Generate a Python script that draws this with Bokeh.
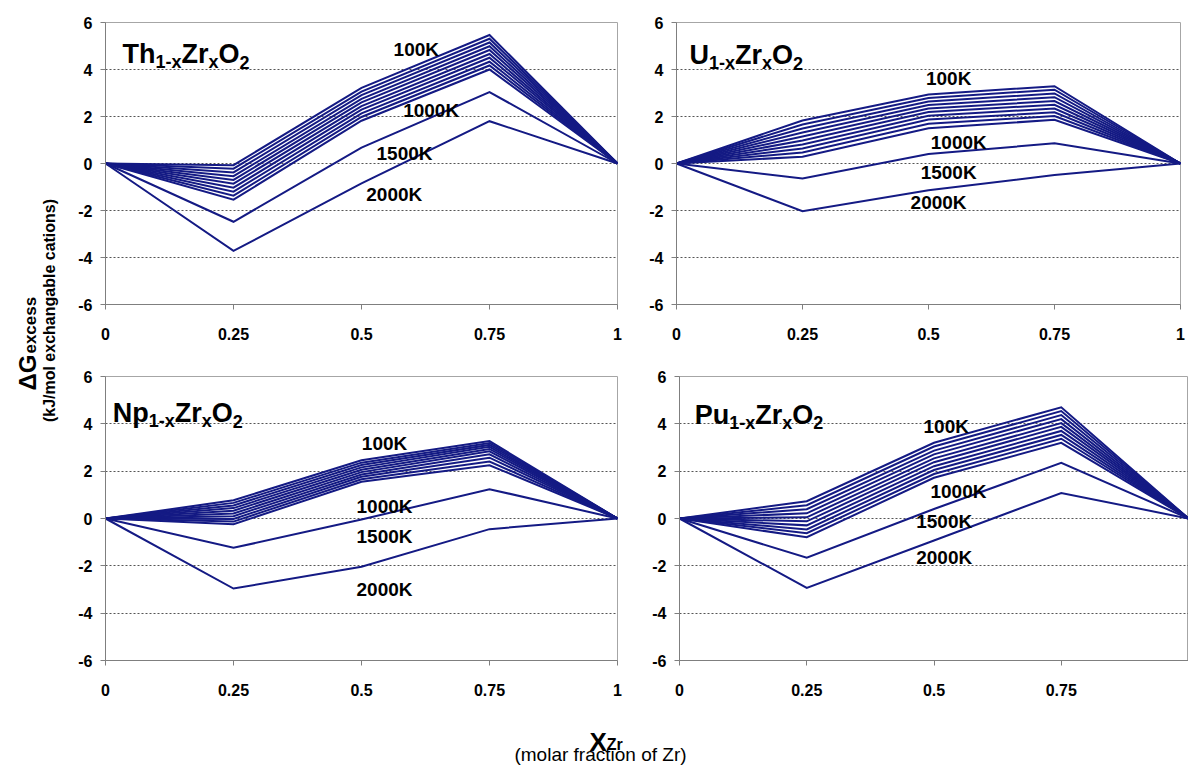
from math import pi
from bokeh.plotting import figure
from bokeh.layouts import row, column
from bokeh.models import Range1d, FixedTicker, ColumnDataSource
from bokeh.core.properties import value
from bokeh.embed import file_html
from bokeh.resources import INLINE

# ---------------- data ----------------
X_ZR = [0, 0.25, 0.5, 0.75, 1]
X_TICKS = [0, 0.25, 0.5, 0.75, 1]
X_TICK_LABELS = ["0", "0.25", "0.5", "0.75", "1"]
Y_TICKS = [-6, -4, -2, 0, 2, 4, 6]
Y_TICK_LABELS = ["-6", "-4", "-2", "0", "2", "4", "6"]
GRID_Y = [-4, -2, 0, 2, 4]
TEMPS = ["100K", "200K", "300K", "400K", "500K", "600K", "700K",
         "800K", "900K", "1000K", "1500K", "2000K"]
LABELED_TEMPS = ["100K", "1000K", "1500K", "2000K"]

# excess Gibbs energy (kJ/mol) at x = 0, .25, .5, .75, 1 ; one row per temperature
th_dg = [
    [0, -0.07, 3.22, 5.47, 0],
    [0, -0.22, 3.06, 5.31, 0],
    [0, -0.38, 2.91, 5.15, 0],
    [0, -0.54, 2.75, 4.99, 0],
    [0, -0.70, 2.60, 4.83, 0],
    [0, -0.86, 2.44, 4.66, 0],
    [0, -1.03, 2.29, 4.50, 0],
    [0, -1.20, 2.13, 4.33, 0],
    [0, -1.37, 1.98, 4.17, 0],
    [0, -1.54, 1.82, 4.00, 0],
    [0, -2.48, 0.68, 3.04, 0],
    [0, -3.72, -0.85, 1.80, 0],
]
u_dg = [
    [0, 1.83, 2.94, 3.29, 0],
    [0, 1.66, 2.79, 3.14, 0],
    [0, 1.49, 2.64, 2.98, 0],
    [0, 1.32, 2.49, 2.82, 0],
    [0, 1.15, 2.34, 2.66, 0],
    [0, 0.98, 2.19, 2.50, 0],
    [0, 0.81, 2.03, 2.34, 0],
    [0, 0.64, 1.87, 2.18, 0],
    [0, 0.47, 1.69, 2.02, 0],
    [0, 0.29, 1.50, 1.86, 0],
    [0, -0.64, 0.40, 0.86, 0],
    [0, -2.03, -1.14, -0.49, 0],
]
np_dg = [
    [0, 0.77, 2.46, 3.27, 0],
    [0, 0.66, 2.36, 3.19, 0],
    [0, 0.55, 2.26, 3.11, 0],
    [0, 0.44, 2.16, 3.03, 0],
    [0, 0.33, 2.06, 2.94, 0],
    [0, 0.21, 1.96, 2.84, 0],
    [0, 0.10, 1.86, 2.71, 0],
    [0, -0.02, 1.76, 2.57, 0],
    [0, -0.13, 1.66, 2.41, 0],
    [0, -0.24, 1.55, 2.25, 0],
    [0, -1.24, -0.04, 1.24, 0],
    [0, -2.96, -2.04, -0.45, 0],
]
pu_dg = [
    [0, 0.73, 3.20, 4.70, 0],
    [0, 0.56, 3.04, 4.54, 0],
    [0, 0.39, 2.87, 4.37, 0],
    [0, 0.22, 2.71, 4.20, 0],
    [0, 0.05, 2.54, 4.03, 0],
    [0, -0.12, 2.38, 3.87, 0],
    [0, -0.29, 2.21, 3.70, 0],
    [0, -0.46, 2.05, 3.53, 0],
    [0, -0.62, 1.88, 3.37, 0],
    [0, -0.79, 1.72, 3.20, 0],
    [0, -1.66, 0.40, 2.35, 0],
    [0, -2.93, -0.93, 1.08, 0],
]

# temperature label anchor points (x, y) in data units
th_lab_x = [0.607, 0.636, 0.584, 0.564]
th_lab_y = [4.84, 2.24, 0.42, -1.30]
u_lab_x = [0.54, 0.56, 0.54, 0.52]
u_lab_y = [3.60, 0.90, -0.39, -1.67]
np_lab_x = [0.545, 0.545, 0.545, 0.545]
np_lab_y = [3.17, 0.52, -0.75, -3.00]
pu_lab_x = [0.524, 0.548, 0.52, 0.52]
pu_lab_y = [3.90, 1.13, -0.14, -1.66]

# ---------------- styling ----------------
FONT = "Liberation Sans"
LINE_COLOR = "#141a84"
EM = {'T': .611, 'h': .611, '1': .556, '-': .333, 'x': .556, 'Z': .611, 'r': .389,
      'O': .778, '2': .556, 'N': .722, 'p': .611, 'U': .722, 'P': .667, 'u': .611,
      'X': .667, 'Δ': .72, 'G': .778}


def tw(s, size):
    return sum(EM.get(c, 0.6) for c in s) * size


def add_formula(p, x, y, parts, big=27, small=18, drop=8):
    xs, ys, txt, xo, yo, fs = [], [], [], [], [], []
    off = 0.0
    for t, sub in parts:
        size = small if sub else big
        xs.append(x); ys.append(y); txt.append(t)
        xo.append(off); yo.append(drop if sub else 0); fs.append(f"{size}px")
        off += tw(t, size)
    src = ColumnDataSource(dict(x=xs, y=ys, text=txt, xo=xo, yo=yo, fs=fs))
    p.text(x="x", y="y", text="text", x_offset="xo", y_offset="yo",
           text_font_size="fs", source=src, text_font=value(FONT),
           text_font_style="bold", text_color="#000000",
           text_align="left", text_baseline="alphabetic")


def panel(width, height, bl, br, bt, bb, curves, lab_x, lab_y, formula, tx, ty,
          last_label=True):
    p = figure(width=width, height=height, x_range=Range1d(0, 1), y_range=Range1d(-6, 6),
               output_backend="svg", toolbar_location=None,
               min_border_left=bl, min_border_right=br,
               min_border_top=bt, min_border_bottom=bb)
    p.outline_line_color = "#a6a6a6"
    p.outline_line_width = 1
    p.background_fill_color = "white"
    p.border_fill_color = "white"

    xl = list(X_TICK_LABELS)
    if not last_label:
        xl[-1] = ""
    xa = p.xaxis[0]
    xa.ticker = FixedTicker(ticks=X_TICKS)
    xa.major_label_overrides = {t: l for t, l in zip(X_TICKS, xl)}
    ya = p.yaxis[0]
    ya.ticker = FixedTicker(ticks=Y_TICKS)
    ya.major_label_overrides = {t: l for t, l in zip(Y_TICKS, Y_TICK_LABELS)}
    for ax in (xa, ya):
        ax.axis_line_color = "#7f7f7f"
        ax.major_tick_line_color = "#7f7f7f"
        ax.minor_tick_line_color = None
        ax.major_tick_in = 0
        ax.major_tick_out = 5
        ax.major_label_text_font = FONT
        ax.major_label_text_font_style = "bold"
        ax.major_label_text_font_size = "16px"
        ax.major_label_text_color = "#000000"
    xa.major_label_standoff = 18
    ya.major_label_standoff = 8

    p.xgrid.visible = False
    p.ygrid.ticker = FixedTicker(ticks=GRID_Y)
    p.ygrid.grid_line_color = "#555555"
    p.ygrid.grid_line_dash = "2 2"
    p.ygrid.grid_line_width = 1

    p.multi_line(xs=[X_ZR] * len(curves), ys=curves, line_color=LINE_COLOR,
                 line_width=2, line_join="miter")
    p.text(x=lab_x, y=lab_y, text=LABELED_TEMPS, text_font=value(FONT),
           text_font_style="bold", text_font_size="19px", text_color="#000000",
           text_align="center", text_baseline="middle")
    add_formula(p, tx, ty, formula)
    return p


th_f = [("Th", 0), ("1-x", 1), ("Zr", 0), ("x", 1), ("O", 0), ("2", 1)]
u_f = [("U", 0), ("1-x", 1), ("Zr", 0), ("x", 1), ("O", 0), ("2", 1)]
np_f = [("Np", 0), ("1-x", 1), ("Zr", 0), ("x", 1), ("O", 0), ("2", 1)]
pu_f = [("Pu", 0), ("1-x", 1), ("Zr", 0), ("x", 1), ("O", 0), ("2", 1)]

tl = panel(580, 352, 45, 23, 20, 48, th_dg, th_lab_x, th_lab_y, th_f, 0.033, 4.65)
tr = panel(548, 352, 36, 8, 22, 48, u_dg, u_lab_x, u_lab_y, u_f, 0.026, 4.60)
bl = panel(580, 348, 45, 23, 24, 40, np_dg, np_lab_x, np_lab_y, np_f, 0.014, 4.44)
br = panel(548, 348, 39, 0, 24, 40, pu_dg, pu_lab_x, pu_lab_y, pu_f, 0.030, 4.39,
           last_label=False)

# y-axis title strip (page x 0..60, y 0..700)
ys = figure(width=60, height=700, x_range=Range1d(0, 60), y_range=Range1d(0, 700),
            output_backend="svg", toolbar_location=None, min_border=0,
            x_axis_location=None, y_axis_location=None)
ys.grid.visible = False
ys.outline_line_color = None
y0 = 700 - 390
ys.text(x=[27], y=[y0], text=["ΔG"], angle=pi / 2, text_font=value(FONT),
        text_font_style="bold", text_font_size="24px", text_color="#000000",
        text_align="left", text_baseline="alphabetic")
ys.text(x=[30], y=[y0 + tw("ΔG", 24) + 1], text=["excess"], angle=pi / 2,
        text_font=value(FONT), text_font_style="bold", text_font_size="17px",
        text_color="#000000", text_align="left", text_baseline="alphabetic")
ys.text(x=[49], y=[700 - 310], text=["(kJ/mol exchangable cations)"], angle=pi / 2,
        text_font=value(FONT), text_font_style="bold", text_font_size="16px",
        text_color="#000000", text_align="center", text_baseline="middle")

# x-axis title strip (page y 700..765)
xs = figure(width=1188, height=65, x_range=Range1d(0, 1188), y_range=Range1d(0, 65),
            output_backend="svg", toolbar_location=None, min_border=0,
            x_axis_location=None, y_axis_location=None)
xs.grid.visible = False
xs.outline_line_color = None
xs.text(x=[589], y=[765 - 741], text=["X"], text_font=value(FONT), text_font_style="bold",
        text_font_size="26px", text_color="#000000", text_align="left",
        text_baseline="alphabetic")
xs.text(x=[589 + tw("X", 26)], y=[765 - 744], text=["Zr"], text_font=value(FONT),
        text_font_style="bold", text_font_size="16px", text_color="#000000",
        text_align="left", text_baseline="alphabetic")
xs.text(x=[600], y=[765 - 754], text=["(molar fraction of Zr)"], text_font=value(FONT),
        text_font_size="19px", text_color="#000000", text_align="center",
        text_baseline="middle")

layout = column(row(ys, column(row(tl, tr), row(bl, br))), xs)
open("out.html", "w").write(file_html(layout, INLINE))
